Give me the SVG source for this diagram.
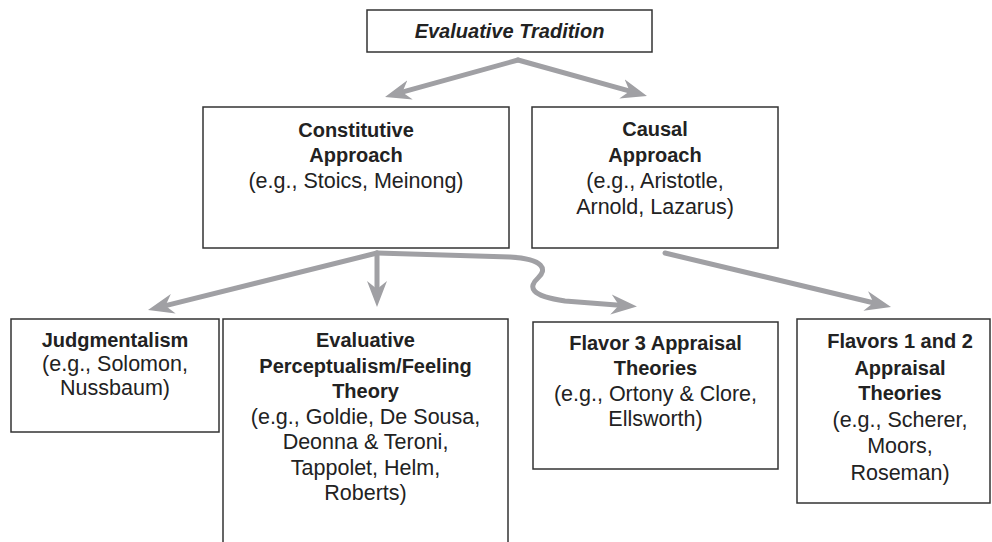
<svg xmlns="http://www.w3.org/2000/svg" width="992" height="542" viewBox="0 0 992 542">
<style>
.box{fill:#fff;stroke:#333;stroke-width:1.5}
.t{font-family:"Liberation Sans",Arial,sans-serif;font-size:21.5px;fill:#222;text-anchor:middle}
.b{font-weight:bold;font-size:20px}
.bi{font-weight:bold;font-style:italic;font-size:20px}
.c{fill:none;stroke:#a0a0a4;stroke-width:5;stroke-linecap:round;stroke-linejoin:round}
</style>
<defs>
<marker id="ah" markerUnits="userSpaceOnUse" markerWidth="26" markerHeight="22" viewBox="0 0 26 22" refX="12" refY="11" orient="auto">
<path d="M0,1 L26,11 L0,21 L8,11 Z" fill="#a0a0a4"/>
</marker>
</defs>
<rect width="992" height="542" fill="#fff"/>
<g id="connectors">
<path class="c" d="M518,60 L398.5,93.2" marker-end="url(#ah)"/>
<path class="c" d="M518,60 L633.5,92.2" marker-end="url(#ah)"/>
<path class="c" d="M377,253 L161.6,306.6" marker-end="url(#ah)"/>
<path class="c" d="M377,253 L377,293" marker-end="url(#ah)"/>
<path class="c" d="M377,253 L510,257 C545,259 547,270 538,278 C528,287 530,296 565,301 L623,305.5" marker-end="url(#ah)"/>
<path class="c" d="M665,253 L877.4,303.75" marker-end="url(#ah)"/>
</g>
<g id="evaluative-tradition">
<rect class="box" x="367" y="10" width="285" height="42"/>
<text class="t bi" x="509.5" y="38">Evaluative Tradition</text>
</g>
<g id="constitutive">
<rect class="box" x="203" y="107" width="306" height="141"/>
<text class="t" x="356"><tspan class="b" x="356" y="137">Constitutive</tspan><tspan class="b" x="356" y="162">Approach</tspan><tspan x="356" y="188">(e.g., Stoics, Meinong)</tspan></text>
</g>
<g id="causal">
<rect class="box" x="532" y="107" width="246" height="141"/>
<text class="t" x="655"><tspan class="b" x="655" y="136">Causal</tspan><tspan class="b" x="655" y="162">Approach</tspan><tspan x="655" y="188">(e.g., Aristotle,</tspan><tspan x="655" y="214">Arnold, Lazarus)</tspan></text>
</g>
<g id="judgmentalism">
<rect class="box" x="11" y="319" width="208" height="113"/>
<text class="t" x="115"><tspan class="b" x="115" y="347">Judgmentalism</tspan><tspan x="115" y="371">(e.g., Solomon,</tspan><tspan x="115" y="395">Nussbaum)</tspan></text>
</g>
<g id="perceptualism">
<path class="box" d="M223,545 L223,319 L508,319 L508,545"/>
<text class="t" x="365.5"><tspan class="b" x="365.5" y="347">Evaluative</tspan><tspan class="b" x="365.5" y="373">Perceptualism/Feeling</tspan><tspan class="b" x="365.5" y="398">Theory</tspan><tspan x="365.5" y="424">(e.g., Goldie, De Sousa,</tspan><tspan x="365.5" y="449">Deonna &amp; Teroni,</tspan><tspan x="365.5" y="475">Tappolet, Helm,</tspan><tspan x="365.5" y="500">Roberts)</tspan></text>
</g>
<g id="flavor3">
<rect class="box" x="533" y="322" width="245" height="147"/>
<text class="t" x="655.5"><tspan class="b" x="655.5" y="350">Flavor 3 Appraisal</tspan><tspan class="b" x="655.5" y="375">Theories</tspan><tspan x="655.5" y="401">(e.g., Ortony &amp; Clore,</tspan><tspan x="655.5" y="426">Ellsworth)</tspan></text>
</g>
<g id="flavors12">
<rect class="box" x="797" y="319" width="193" height="184"/>
<text class="t" x="900"><tspan class="b" x="900" y="348">Flavors 1 and 2</tspan><tspan class="b" x="900" y="375">Appraisal</tspan><tspan class="b" x="900" y="400">Theories</tspan><tspan x="900" y="427">(e.g., Scherer,</tspan><tspan x="900" y="453">Moors,</tspan><tspan x="900" y="480">Roseman)</tspan></text>
</g>
</svg>
